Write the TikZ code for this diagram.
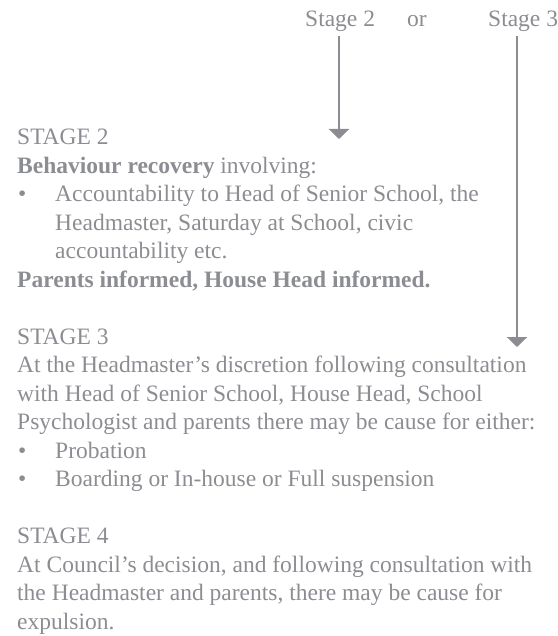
\documentclass[tikz,border=0pt]{standalone}
\usepackage{fontspec}
\setmainfont{Liberation Serif}
\usepackage{xcolor}
\definecolor{ink-gray}{RGB}{140,141,146}
\usetikzlibrary{arrows.meta,positioning}
\newcommand{\stagebullet}{\makebox[38pt][l]{\hspace{1pt}\textbullet}}
\newcommand{\stageindent}{\hspace*{38pt}}

\begin{document}
\begin{tikzpicture}[
    x=1pt, y=-1pt,
    stage label/.style={
        anchor=base west,
        inner sep=0pt,
        text=ink-gray,
        font=\fontsize{23.5}{28.5}\selectfont
    },
    stage block/.style={
        anchor=base west,
        inner sep=0pt,
        text=ink-gray,
        align=left,
        font=\fontsize{23.5}{28.5}\selectfont
    },
    arrow/.style={-{Triangle[width=20pt,length=10pt]}, draw=ink-gray, line width=2.6pt}
]
\useasboundingbox (0,0) rectangle (557,636);

% Choice labels
\node[stage label] (lbl2) at (305,27) {Stage 2};
\node[stage label] (lblor) at (407,27) {or};
\node[stage label] (lbl3) at (488,27) {Stage 3};

% Stage 2 (placed at the baseline of its last line)
\node[stage block] (stage2) at (17,287) {
    STAGE 2\\
    \textbf{Behaviour recovery} involving:\\
    \stagebullet Accountability to Head of Senior School, the\\
    \stageindent Headmaster, Saturday at School, civic\\
    \stageindent accountability etc.\\
    \textbf{Parents informed, House Head informed.}
};

% Stage 3
\node[stage block] (stage3) at (17,486.5) {
    STAGE 3\\
    At the Headmaster’s discretion following consultation\\
    with Head of Senior School, House Head, School\\
    Psychologist and parents there may be cause for either:\\
    \stagebullet Probation\\
    \stagebullet Boarding or In-house or Full suspension
};

% Stage 4
\node[stage block] (stage4) at (17,629) {
    STAGE 4\\
    At Council’s decision, and following consultation with\\
    the Headmaster and parents, there may be cause for\\
    expulsion.
};

% Arrows
\coordinate (tip2) at (339,139);
\coordinate (tip3) at (517,347);
\draw[arrow] (lbl2.south -| tip2) ++(0,4) -- (tip2);
\draw[arrow] (lbl3.south -| tip3) ++(0,4) -- (tip3);

\end{tikzpicture}
\end{document}
